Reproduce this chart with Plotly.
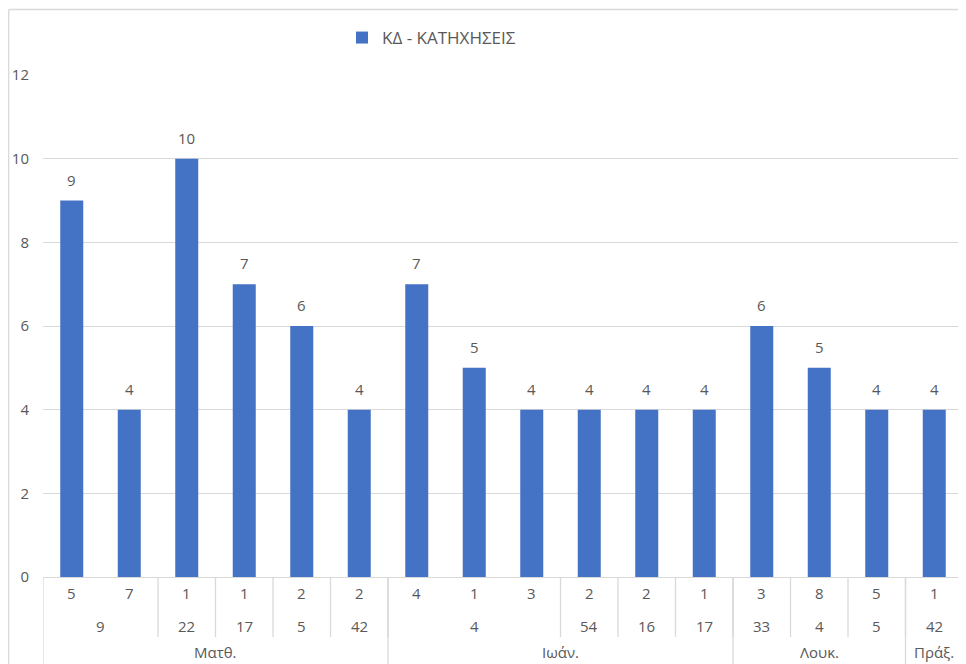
import plotly.graph_objects as go

# ---- data ----
books = ["Ματθ.", "Ματθ.", "Ματθ.", "Ματθ.", "Ματθ.", "Ματθ.",
         "Ιωάν.", "Ιωάν.", "Ιωάν.", "Ιωάν.", "Ιωάν.", "Ιωάν.",
         "Λουκ.", "Λουκ.", "Λουκ.", "Πράξ."]
chapters = ["9", "9", "22", "17", "5", "42",
            "4", "4", "4", "54", "16", "17",
            "33", "4", "5", "42"]
verses = ["5", "7", "1", "1", "2", "2",
          "4", "1", "3", "2", "2", "1",
          "3", "8", "5", "1"]
values = [9, 4, 10, 7, 6, 4, 7, 5, 4, 4, 4, 4, 6, 5, 4, 4]
series_name = "ΚΔ - ΚΑΤΗΧΗΣΕΙΣ"
y_ticks = [0, 2, 4, 6, 8, 10, 12]

# ---- style ----
OFF = 8                      # page body margin
W, H = 966 - OFF, 664 - OFF
PL, PT, PR, PB = 43, 75, 963, 577   # plot area in page pixels
ML, MT = PL - OFF, PT - OFF
MR, MB = W - (PR - OFF), H - (PB - OFF)
PW, PH = PR - PL, PB - PT
TXT = "#595959"
GRID = "#d9d9d9"
BAR = "#4472C4"
FONT = "Open Sans"

def px_x(px):
    return (px - PL) / PW

def px_y(py):
    return (PB - py) / PH

n = len(values)
xs = list(range(n))

fig = go.Figure()
fig.add_trace(go.Bar(
    x=xs, y=values, name=series_name,
    marker=dict(color=BAR, line=dict(width=0)),
    width=0.4,
))

shapes = []
annotations = []

# data labels
for i in xs:
    annotations.append(dict(x=i, xref="x", y=values[i], yref="y",
                            text=str(values[i]), showarrow=False,
                            yanchor="bottom", yshift=9,
                            font=dict(color=TXT, size=15, family=FONT)))

def groups(keys):
    out = []
    start = 0
    for i in range(1, n + 1):
        if i == n or keys[i] != keys[start]:
            out.append((start, i - 1))
            start = i
    return out

lab_font = dict(color=TXT, size=15, family=FONT)
# level 1: verses
for i in xs:
    annotations.append(dict(x=i, xref="x", y=px_y(593), yref="paper",
                            yanchor="middle", text=verses[i], showarrow=False,
                            font=lab_font))
# level 2: chapters
chap_keys = [(books[i], chapters[i]) for i in xs]
for a, b in groups(chap_keys):
    annotations.append(dict(x=(a + b) / 2, xref="x", y=px_y(626), yref="paper",
                            yanchor="middle", text=chapters[a], showarrow=False,
                            font=lab_font))
    shapes.append(dict(type="line", xref="x", yref="paper",
                       x0=b + 0.5, x1=b + 0.5, y0=0, y1=px_y(637),
                       line=dict(color=GRID, width=1.3)))
# level 3: books
for a, b in groups(books):
    annotations.append(dict(x=(a + b) / 2, xref="x", y=px_y(652), yref="paper",
                            yanchor="middle", text=books[a], showarrow=False,
                            font=lab_font))
    shapes.append(dict(type="line", xref="x", yref="paper",
                       x0=b + 0.5, x1=b + 0.5, y0=0, y1=px_y(680),
                       line=dict(color=GRID, width=1.3)))
shapes.append(dict(type="line", xref="x", yref="paper",
                   x0=-0.5, x1=-0.5, y0=0, y1=px_y(680),
                   line=dict(color=GRID, width=1.3)))
# outer chart frame (top and left)
shapes.append(dict(type="line", xref="paper", yref="paper",
                   x0=px_x(8.7), x1=px_x(980), y0=px_y(9.5), y1=px_y(9.5),
                   line=dict(color=GRID, width=1.3)))
shapes.append(dict(type="line", xref="paper", yref="paper",
                   x0=px_x(8.7), x1=px_x(8.7), y0=px_y(9.5), y1=px_y(680),
                   line=dict(color=GRID, width=1.3)))

fig.update_layout(
    width=W, height=H,
    margin=dict(l=ML, r=MR, t=MT, b=MB, pad=0, autoexpand=False),
    paper_bgcolor="white", plot_bgcolor="white",
    font=dict(family=FONT, color=TXT, size=15),
    showlegend=True,
    legend=dict(orientation="h", x=px_x(342), xanchor="left",
                y=px_y(38), yanchor="middle",
                font=dict(size=17, color=TXT, family=FONT)),
    bargap=0.6,
    xaxis=dict(range=[-0.5, n - 0.5], showticklabels=False, showgrid=False,
               zeroline=False, showline=False, ticks="", fixedrange=True),
    yaxis=dict(range=[0, 12], tickvals=y_ticks, showgrid=True, gridcolor=GRID,
               gridwidth=1.3, zeroline=True, zerolinecolor=GRID, zerolinewidth=1.3,
               showline=False, ticks="outside", ticklen=10,
               tickcolor="rgba(0,0,0,0)",
               tickfont=dict(size=15, color=TXT, family=FONT)),
    shapes=shapes, annotations=annotations,
)

fig.write_html("out.html")
